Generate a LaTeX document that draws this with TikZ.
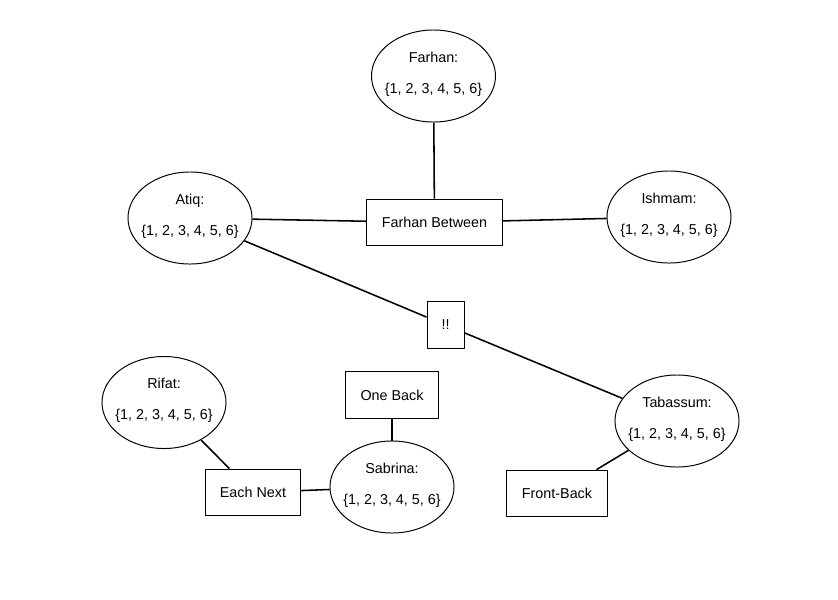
\documentclass[tikz,border=0pt]{standalone}
\usepackage{fontspec}
\setmainfont{Liberation Sans}
\usetikzlibrary{shapes.geometric}
\begin{document}
\begin{tikzpicture}[x=0.025cm,y=-0.025cm,line join=round,
  font=\fontsize{10.2}{12}\selectfont,
  person/.style={draw,ellipse,line width=.7pt,minimum width=3.1cm,minimum height=2.3cm,inner sep=0pt},
  values/.style={align=center,inner sep=0pt,yshift=1.5pt},
  rule/.style={draw,rectangle,line width=.7pt,minimum height=1.17cm,inner sep=0pt},
  link/.style={line width=1.1pt}]
\useasboundingbox (0,0) rectangle (838,600);
% people with their domains
\node[person] (farhan) at (433.5,76) {};
\node[values] (farhan-d) at (farhan) {Farhan:\\[10pt]\{1, 2, 3, 4, 5, 6\}};
\node[person] (atiq) at (190,218) {};
\node[values] (atiq-d) at (atiq) {Atiq:\\[10pt]\{1, 2, 3, 4, 5, 6\}};
\node[person] (ishmam) at (669,217) {};
\node[values] (ishmam-d) at (ishmam) {Ishmam:\\[10pt]\{1, 2, 3, 4, 5, 6\}};
\node[person] (rifat) at (164,402.5) {};
\node[values] (rifat-d) at (rifat) {Rifat:\\[10pt]\{1, 2, 3, 4, 5, 6\}};
\node[person] (sabrina) at (392,487) {};
\node[values] (sabrina-d) at (sabrina) {Sabrina:\\[10pt]\{1, 2, 3, 4, 5, 6\}};
\node[person] (tabassum) at (677,421) {};
\node[values] (tabassum-d) at (tabassum) {Tabassum:\\[10pt]\{1, 2, 3, 4, 5, 6\}};
% constraints
\node[rule,minimum width=3.375cm] (between) at (434.5,222.5) {Farhan Between};
\node[rule,minimum width=0.925cm] (bang) at (445.5,325) {!!};
\node[rule,minimum width=2.3cm] (oneback) at (392,395) {One Back};
\node[rule,minimum width=2.35cm] (eachnext) at (253,492.5) {Each Next};
\node[rule,minimum width=2.5cm] (frontback) at (557,493.5) {Front-Back};
% connectors
\draw[link] (farhan)--(between);
\draw[link] (atiq)--(between);
\draw[link] (between)--(ishmam);
\draw[link] (atiq)--(bang);
\draw[link] (bang)--(tabassum);
\draw[link] (rifat)--(eachnext);
\draw[link] (eachnext)--(sabrina);
\draw[link] (oneback)--(sabrina);
\draw[link] (tabassum)--(frontback);
\end{tikzpicture}
\end{document}
